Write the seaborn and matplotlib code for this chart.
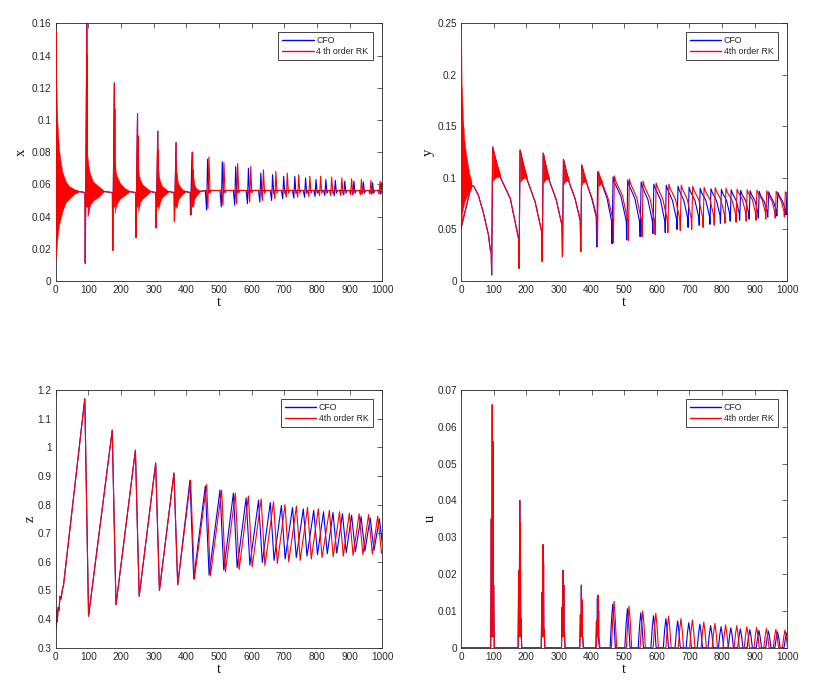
import matplotlib
matplotlib.use("Agg")
import matplotlib.pyplot as plt
import pandas as pd
import seaborn as sns
from matplotlib.lines import Line2D
from matplotlib.ticker import MultipleLocator, FuncFormatter

sns.set_style("white")
plt.rcParams["font.family"] = ["Liberation Sans", "DejaVu Sans"]

# ---------------- series ----------------
SERIES = ["CFO", "RK"]
PALETTE = {"CFO": "#0000ff", "RK": "#ff0000"}
LEGEND_LABELS_X = ["CFO", "4 th order RK"]
LEGEND_LABELS = ["CFO", "4th order RK"]

# ---------------- event times (spike times) ----------------
EV_RK = [96, 180, 251, 313, 369, 420, 469, 515, 557, 597, 636, 674, 709, 744,
         778, 811, 845, 876, 906, 936, 965, 993]
EV_CFO = [96, 180, 251, 313, 369, 418, 465, 510, 551, 590, 628, 664, 698, 732,
          765, 797, 827, 856, 885, 913, 942, 970, 998]

# ---------------- u(t) ----------------
U_RK = [0.066, 0.040, 0.028, 0.021, 0.017, 0.0143, 0.0126, 0.0113, 0.0100, 0.0094,
        0.0086, 0.0079, 0.0075, 0.0070, 0.0066, 0.0062, 0.0060, 0.0057, 0.0055,
        0.0052, 0.0050, 0.0048]
U_CFO = [0.066, 0.040, 0.028, 0.021, 0.017, 0.0135, 0.0118, 0.0106, 0.0095, 0.0087,
         0.0079, 0.0073, 0.0068, 0.0064, 0.0060, 0.0057, 0.0054, 0.0051, 0.0049,
         0.0047, 0.0045, 0.0043, 0.0040]
U_SUB_RK = [[0.035, 0.056, 0.017], [0.021, 0.034, 0.008], [0.015, 0.023, 0.005],
            [0.011, 0.017, 0.004], [0.009, 0.013, 0.003], [0.0075, 0.010, 0.002]]
U_SUB_CFO = [[0.035, 0.056, 0.017], [0.021, 0.034, 0.008], [0.015, 0.023, 0.005],
             [0.011, 0.017, 0.004], [0.009, 0.013, 0.003], [0.007, 0.0095, 0.002]]
U_GAP = 0.003
U_SHOULDER = 0.6   # share of the peak height at the pulse shoulders

# ---------------- x(t) ----------------
X_INIT_T = [0, 1, 2, 5, 10, 15, 20, 31, 41, 56, 70]
X_INIT_HI = [0.150, 0.155, 0.123, 0.099, 0.082, 0.074, 0.068, 0.0617, 0.059, 0.057, 0.0558]
X_INIT_LO = [0.020, 0.014, 0.018, 0.0265, 0.035, 0.0385, 0.043, 0.049, 0.051, 0.054, 0.0552]
X_LOW_RK = [0.011, 0.019, 0.027, 0.033, 0.037, 0.041, 0.045, 0.047, 0.048, 0.049, 0.050,
            0.051, 0.052, 0.052, 0.0525, 0.053, 0.053, 0.053, 0.0535, 0.0535, 0.054, 0.054]
X_HIGH_RK = [0.165, 0.123, 0.104, 0.093, 0.086, 0.080, 0.077, 0.0735, 0.073, 0.071, 0.069,
             0.068, 0.067, 0.066, 0.065, 0.065, 0.0645, 0.064, 0.0635, 0.063, 0.0625, 0.062]
X_LOW_CFO = [0.011, 0.019, 0.027, 0.033, 0.037, 0.041, 0.044, 0.046, 0.047, 0.048, 0.049,
             0.050, 0.051, 0.0515, 0.052, 0.0525, 0.053, 0.053, 0.0535, 0.0535, 0.054,
             0.054, 0.054]
X_HIGH_CFO = [0.165, 0.123, 0.104, 0.093, 0.086, 0.080, 0.0756, 0.074, 0.071, 0.070, 0.067,
              0.066, 0.065, 0.065, 0.064, 0.063, 0.063, 0.0625, 0.062, 0.062, 0.0615,
              0.061, 0.061]
X_HIGH2 = [0.140, 0.107, 0.090, 0.081, 0.073, 0.069]
X_RING_OFF = [[1.5, 4, 9, 19, 35, 50], [1.5, 4, 8, 17, 30, 44], [1.5, 4, 8, 15, 26, 38],
              [1.5, 3.5, 7, 13, 22, 32], [1.5, 3.5, 6, 11, 19, 28], [1.5, 3, 5, 9, 15, 22]]
X_RING_HI = [[0.078, 0.0726, 0.067, 0.0617, 0.059, 0.0565],
             [0.075, 0.068, 0.065, 0.061, 0.058, 0.0562],
             [0.072, 0.066, 0.063, 0.060, 0.058, 0.0562],
             [0.070, 0.065, 0.062, 0.059, 0.0575, 0.0560],
             [0.068, 0.064, 0.061, 0.059, 0.057, 0.0560],
             [0.066, 0.063, 0.060, 0.058, 0.057, 0.0560]]
X_RING_LO = [[0.040, 0.0413, 0.047, 0.050, 0.052, 0.0552],
             [0.042, 0.045, 0.048, 0.051, 0.053, 0.0552],
             [0.043, 0.045, 0.049, 0.051, 0.053, 0.0552],
             [0.044, 0.046, 0.049, 0.052, 0.0535, 0.0552],
             [0.045, 0.047, 0.050, 0.052, 0.054, 0.0552],
             [0.046, 0.048, 0.051, 0.053, 0.054, 0.0555]]
X_BASE_END = 0.0556
X_BASE_PRE = 0.0549
X_BASE_LATE = 0.0562
X_UNDER = 0.0545
X_SPIKE_GAP = 0.046

# ---------------- y(t) ----------------
Y_INIT_BAND_T = [1, 2, 3, 6, 10, 15, 20, 25, 32]
Y_INIT_BAND_HI = [0.234, 0.19, 0.187, 0.158, 0.138, 0.124, 0.115, 0.105, 0.097]
Y_INIT_BAND_LO = [0.060, 0.055, 0.065, 0.070, 0.076, 0.080, 0.084, 0.087, 0.090]
Y_INIT_LINE_T = [0, 32, 40, 53, 68, 84, 90]
Y_INIT_LINE_V = [0.051, 0.093, 0.0915, 0.0835, 0.067, 0.045, 0.030]
Y_PRE_RK = [0.0285, 0.041, 0.0475, 0.054, 0.0585, 0.062, 0.060, 0.058, 0.058, 0.058, 0.059,
            0.060, 0.061, 0.062, 0.063, 0.064, 0.065, 0.066, 0.066, 0.067, 0.067, 0.068]
Y_DIP_RK = [0.0058, 0.0123, 0.0188, 0.0236, 0.0285, 0.033, 0.037, 0.039, 0.043, 0.045, 0.047,
            0.049, 0.050, 0.052, 0.054, 0.056, 0.057, 0.058, 0.059, 0.060, 0.061, 0.062]
Y_PEAK_RK = [0.130, 0.127, 0.124, 0.118, 0.1126, 0.106, 0.102, 0.099, 0.097, 0.095, 0.094,
             0.093, 0.092, 0.091, 0.0905, 0.090, 0.089, 0.0885, 0.088, 0.0875, 0.087, 0.0865]
Y_KNEE_RK = [0.101, 0.099, 0.098, 0.097, 0.096, 0.095, 0.097, 0.094, 0.092, 0.091, 0.090,
             0.089, 0.088, 0.087, 0.087, 0.086, 0.086, 0.085, 0.085, 0.084, 0.084, 0.084]
Y_MID_RK = [0.080, 0.077, 0.079, 0.080, 0.080, 0.080, 0.083, 0.081, 0.080, 0.079, 0.079,
            0.079, 0.079, 0.079, 0.079, 0.079, 0.079, 0.079, 0.079, 0.078, 0.078, 0.078]
Y_PRE_CFO = [0.0285, 0.041, 0.0475, 0.054, 0.0585, 0.062, 0.058, 0.058, 0.057, 0.058, 0.058,
             0.060, 0.061, 0.062, 0.063, 0.064, 0.065, 0.066, 0.066, 0.067, 0.067, 0.068, 0.069]
Y_DIP_CFO = [0.0058, 0.0123, 0.0188, 0.0236, 0.0285, 0.033, 0.036, 0.040, 0.043, 0.046, 0.047,
             0.050, 0.052, 0.054, 0.055, 0.056, 0.058, 0.059, 0.060, 0.061, 0.062, 0.063, 0.064]
Y_PEAK_CFO = [0.130, 0.127, 0.124, 0.118, 0.1126, 0.106, 0.101, 0.098, 0.096, 0.094, 0.093,
              0.092, 0.091, 0.090, 0.0895, 0.089, 0.0885, 0.088, 0.0875, 0.087, 0.0865,
              0.086, 0.086]
Y_KNEE_CFO = [0.101, 0.099, 0.098, 0.097, 0.096, 0.095, 0.096, 0.093, 0.091, 0.090, 0.089,
              0.088, 0.087, 0.086, 0.086, 0.085, 0.085, 0.084, 0.084, 0.083, 0.083, 0.083, 0.083]
Y_MID_CFO = [0.080, 0.077, 0.079, 0.080, 0.080, 0.080, 0.082, 0.080, 0.079, 0.079, 0.078,
             0.078, 0.078, 0.078, 0.078, 0.078, 0.078, 0.078, 0.078, 0.077, 0.077, 0.077, 0.077]
Y_RING_OFF = [[1.5, 6, 14, 24], [1.5, 6, 13, 22], [1.5, 5, 11, 19], [1.5, 5, 10, 17],
              [1.5, 4, 9, 15], [1.5, 4, 8, 13]]
Y_RING_HI = [[0.129, 0.122, 0.113, 0.104], [0.126, 0.119, 0.110, 0.102],
             [0.123, 0.116, 0.108, 0.101], [0.117, 0.111, 0.105, 0.100],
             [0.112, 0.107, 0.102, 0.098], [0.105, 0.102, 0.099, 0.097]]
Y_RING_LO = [[0.097, 0.099, 0.101, 0.101], [0.096, 0.098, 0.100, 0.099],
             [0.095, 0.097, 0.099, 0.098], [0.094, 0.096, 0.097, 0.097],
             [0.093, 0.095, 0.096, 0.096], [0.092, 0.093, 0.094, 0.095]]

# ---------------- z(t) ----------------
Z_INIT_T = [0, 1.5, 3, 5, 7, 10, 13, 16, 20, 24]
Z_INIT_V = [0.40, 0.37, 0.43, 0.39, 0.44, 0.43, 0.48, 0.47, 0.50, 0.52]
Z_PEAK_RK = [1.17, 1.06, 0.99, 0.945, 0.91, 0.885, 0.87, 0.85, 0.84, 0.83, 0.82, 0.81,
             0.80, 0.795, 0.79, 0.785, 0.78, 0.775, 0.77, 0.768, 0.765, 0.76]
Z_TROUGH_RK = [0.41, 0.45, 0.48, 0.50, 0.52, 0.54, 0.55, 0.565, 0.573, 0.582, 0.587,
               0.594, 0.60, 0.605, 0.61, 0.615, 0.618, 0.62, 0.622, 0.625, 0.627, 0.63]
Z_PEAK_CFO = [1.17, 1.06, 0.99, 0.945, 0.91, 0.885, 0.865, 0.851, 0.84, 0.823, 0.815,
              0.807, 0.797, 0.79, 0.785, 0.78, 0.775, 0.772, 0.768, 0.763, 0.758, 0.753, 0.75]
Z_TROUGH_CFO = [0.41, 0.45, 0.48, 0.50, 0.52, 0.54, 0.554, 0.571, 0.58, 0.588, 0.598,
                0.605, 0.61, 0.615, 0.62, 0.625, 0.628, 0.63, 0.632, 0.635, 0.637, 0.64, 0.64]

N_EARLY = 6


# ---------------- assemble vertex lists from the read values ----------------
def build_u(ev, h, sub):
    T, V = [0], [0]
    for i, t in enumerate(ev):
        if i < len(sub):
            s = sub[i]
            T += [t - 5, t - 3, t - 1.5, t, t + 1, t + 2, t + 3, t + 4, t + 6]
            V += [0, s[0], U_GAP, h[i], U_GAP, s[1], U_GAP, s[2], 0]
        else:
            T += [t - 8, t - 4, t, t + 4, t + 8]
            V += [0, U_SHOULDER * h[i], h[i], U_SHOULDER * h[i], 0]
    T.append(1020); V.append(0)
    return T, V


def build_x(ev, low, high):
    T, V = [0, 1, 2, 3, X_INIT_T[-1]], [0.085, 0.15, 0.02, 0.06, X_BASE_END]
    for i, t in enumerate(ev):
        if i < N_EARLY:
            T += [t - 6.5, t - 5.5, t - 0.5, t, t + 0.6, t + 1.2, t - 0.5 + X_RING_OFF[i][-1]]
            V += [X_BASE_PRE, low[i], high[i], X_SPIKE_GAP, X_HIGH2[i], 0.05, X_BASE_END]
        else:
            T += [t - 7, t - 3, t, t + 3.5, t + 7]
            V += [X_BASE_LATE, low[i], high[i], X_UNDER, X_BASE_LATE]
    T.append(1020); V.append(X_BASE_LATE)
    return T, V


def build_y(ev, pre, dip, peak, knee, mid):
    T, V = list(Y_INIT_LINE_T), list(Y_INIT_LINE_V)
    for i, t in enumerate(ev):
        T += [t - 3.5, t - 2, t + 1]
        V += [pre[i], dip[i], peak[i]]
        k = t + (Y_RING_OFF[i][-1] if i < N_EARLY else 5)
        T.append(k); V.append(knee[i])
        nxt = ev[i + 1] - 3.5 if i + 1 < len(ev) else 1030
        T.append(k + 0.55 * (nxt - k)); V.append(mid[i])
    return T, V


def build_z(ev, peak, trough):
    T, V = list(Z_INIT_T), list(Z_INIT_V)
    for i, t in enumerate(ev):
        T += [t - 7, t + 4.5]
        V += [peak[i], trough[i]]
    T.append(1030); V.append(trough[-1] + 0.1)
    return T, V


def frame(pairs):
    rows = []
    for name, (T, V) in pairs:
        rows.append(pd.DataFrame({"t": T, "v": V, "series": name}))
    return pd.concat(rows, ignore_index=True)


fmt = FuncFormatter(lambda v, p: f"{round(v, 6):g}")
EDGE = "#262626"


def style(ax, ylim, ystep, ylabel, ylab_x, legend_labels):
    ax.set_xlim(0, 1000)
    ax.set_ylim(*ylim)
    ax.xaxis.set_major_locator(MultipleLocator(100))
    ax.yaxis.set_major_locator(MultipleLocator(ystep))
    ax.xaxis.set_major_formatter(fmt)
    ax.yaxis.set_major_formatter(fmt)
    ax.tick_params(direction="in", top=True, right=True, length=3.5, width=0.5,
                   labelsize=7.2, colors=EDGE, pad=3)
    for s in ax.spines.values():
        s.set_color(EDGE)
        s.set_linewidth(0.6)
    ax.set_xlabel("t", family=["Liberation Serif"], fontsize=10.5, color="#111111")
    ax.set_ylabel(ylabel, family=["Liberation Serif"], fontsize=10.5, color="#111111")
    ax.xaxis.set_label_coords(0.5, -0.083)
    ax.xaxis.label.set_va("center")
    ax.yaxis.set_label_coords(ylab_x, 0.5)
    ax.yaxis.label.set_va("center")
    handles = [Line2D([], [], color=PALETTE[s], lw=1.0) for s in SERIES]
    leg = ax.legend(handles, legend_labels, loc="upper right",
                    bbox_to_anchor=(0.97, 0.966), fontsize=6.3, frameon=True,
                    fancybox=False, framealpha=1, edgecolor=EDGE, borderpad=0.45,
                    handlelength=3.6, handletextpad=0.3, labelspacing=0.25,
                    borderaxespad=0)
    leg.get_frame().set_linewidth(0.6)


def draw(ax, df):
    sns.lineplot(data=df, x="t", y="v", hue="series", hue_order=SERIES, palette=PALETTE,
                 sort=False, estimator=None, linewidth=0.8, legend=False, ax=ax)


fig = plt.figure(figsize=(8.22, 7.0), dpi=100)
ax_x = fig.add_axes([0.0678, 0.5986, 0.3973, 0.3681])
ax_y = fig.add_axes([0.5608, 0.5986, 0.3970, 0.3681])
ax_z = fig.add_axes([0.0678, 0.0747, 0.3973, 0.3681])
ax_u = fig.add_axes([0.5608, 0.0747, 0.3970, 0.3681])

# x panel
draw(ax_x, frame([("CFO", build_x(EV_CFO, X_LOW_CFO, X_HIGH_CFO)),
                  ("RK", build_x(EV_RK, X_LOW_RK, X_HIGH_RK))]))
ax_x.fill_between(X_INIT_T, X_INIT_LO, X_INIT_HI, color="#ff0000", lw=0.3, zorder=3)
for i in range(N_EARLY):
    tt = [EV_RK[i] - 0.5 + o for o in X_RING_OFF[i]]
    ax_x.fill_between(tt, X_RING_LO[i], X_RING_HI[i], color="#ff0000", lw=0.3, zorder=3)
style(ax_x, (0, 0.16), 0.02, "x", -0.104, LEGEND_LABELS_X)

# y panel
draw(ax_y, frame([("CFO", build_y(EV_CFO, Y_PRE_CFO, Y_DIP_CFO, Y_PEAK_CFO, Y_KNEE_CFO, Y_MID_CFO)),
                  ("RK", build_y(EV_RK, Y_PRE_RK, Y_DIP_RK, Y_PEAK_RK, Y_KNEE_RK, Y_MID_RK))]))
ax_y.fill_between(Y_INIT_BAND_T, Y_INIT_BAND_LO, Y_INIT_BAND_HI, color="#ff0000", lw=0.3, zorder=3)
for i in range(N_EARLY):
    tt = [EV_RK[i] + o for o in Y_RING_OFF[i]]
    ax_y.fill_between(tt, Y_RING_LO[i], Y_RING_HI[i], color="#ff0000", lw=0.3, zorder=3)
style(ax_y, (0, 0.25), 0.05, "y", -0.101, LEGEND_LABELS)

# z panel
draw(ax_z, frame([("CFO", build_z(EV_CFO, Z_PEAK_CFO, Z_TROUGH_CFO)),
                  ("RK", build_z(EV_RK, Z_PEAK_RK, Z_TROUGH_RK))]))
style(ax_z, (0.3, 1.2), 0.1, "z", -0.079, LEGEND_LABELS)

# u panel
draw(ax_u, frame([("CFO", build_u(EV_CFO, U_CFO, U_SUB_CFO)),
                  ("RK", build_u(EV_RK, U_RK, U_SUB_RK))]))
style(ax_u, (0, 0.07), 0.01, "u", -0.095, LEGEND_LABELS)

fig.savefig("out.png", dpi=100)
